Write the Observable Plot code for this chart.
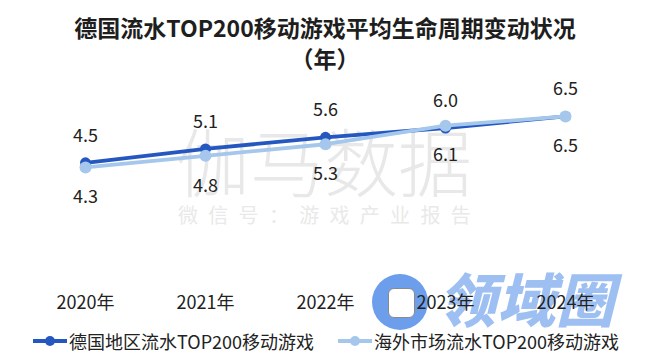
<!DOCTYPE html>
<html>
<head>
<meta charset="utf-8">
<script src="https://cdn.jsdelivr.net/npm/d3@7"></script>
<script src="https://cdn.jsdelivr.net/npm/@observablehq/plot@0.6"></script>
<style>
  html, body { margin: 0; padding: 0; background: #fff; }
  body { width: 650px; height: 364px; position: relative; overflow: hidden;
         font-family: "Noto Sans CJK SC", "Noto Sans", sans-serif; color: #222; }
  #title { position: relative; z-index: 3; text-align: center; font-weight: bold; font-size: 23px;
           line-height: 31px; padding-top: 12px; height: 62px; color: #1e1e1e; }
  #chart { position: relative; z-index: 3; height: 250px; }
  #legend { position: relative; z-index: 3; height: 34px; display: flex; align-items: center;
            font-size: 18px; color: #222; padding-left: 33px; }
  .item { display: flex; align-items: center; white-space: nowrap; }
  .item svg { margin-right: 2px; }
  .wm1 { position: absolute; z-index: 1; left: 176px; top: 122px; font-size: 74px; font-weight: 300; color: #e8e8e8;
         line-height: 1; white-space: nowrap; }
  .wm2 { position: absolute; z-index: 1; left: 178px; top: 205px; font-size: 20px; letter-spacing: 10.3px;
         color: #e9e9e9; line-height: 1; white-space: nowrap; }
  .logo-c { position: absolute; z-index: 2; left: 372px; top: 274px; width: 56px; height: 56px; border-radius: 50%;
            background: #5d93ea; opacity: 0.9; }
  .logo-sq { position: absolute; z-index: 2; left: 388px; top: 288px; width: 25px; height: 28px; border-radius: 6px;
             background: #fff; border: 1px solid #8a8a8a; }
  .logo-t { position: absolute; z-index: 2; left: 438px; top: 268px; font-size: 58px; font-weight: 900;
            font-style: italic; color: #8db5f0; opacity: 0.85; line-height: 1; white-space: nowrap; letter-spacing: 1px; }
</style>
</head>
<body>
<div class="wm1">伽马数据</div>
<div class="wm2">微信号：游戏产业报告</div>
<div class="logo-c"></div>
<div class="logo-sq"></div>
<div class="logo-t">领域圈</div>
<div id="title">德国流水TOP200移动游戏平均生命周期变动状况<br>（年）</div>
<div id="chart"></div>
<div id="legend"></div>
<script>
const years = ["2020", "2021", "2022", "2023", "2024"];
const germany = [4.5, 5.1, 5.6, 6.0, 6.5];
const overseas = [4.3, 4.8, 5.3, 6.1, 6.5];
const seriesNames = ["德国地区流水TOP200移动游戏", "海外市场流水TOP200移动游戏"];
const seriesColors = ["#2458c0", "#a5c7ec"];

const dataG = years.map((y, i) => ({year: y, value: germany[i]}));
const dataO = years.map((y, i) => ({year: y, value: overseas[i]}));

const chart = Plot.plot({
  width: 650,
  height: 250,
  marginTop: 0,
  marginBottom: 28,
  marginLeft: 0,
  marginRight: 0,
  style: {background: "transparent", fontFamily: "'Noto Sans CJK SC', sans-serif", fontSize: "18px", color: "#222"},
  x: {type: "point", domain: years, range: [85, 565], padding: 0, axis: null},
  y: {domain: [0, 8], range: [192.7, 7.1], axis: null},
  marks: [
    Plot.axisX({tickSize: 0, tickPadding: 0, tickFormat: d => d + "年", label: null, fill: "#222"}),
    Plot.line(dataG, {x: "year", y: "value", stroke: seriesColors[0], strokeWidth: 3.8}),
    Plot.dot(dataG, {x: "year", y: "value", r: 5.5, fill: seriesColors[0]}),
    Plot.line(dataO, {x: "year", y: "value", stroke: seriesColors[1], strokeWidth: 3.8}),
    Plot.dot(dataO, {x: "year", y: "value", r: 6, fill: seriesColors[1]}),
    Plot.text(dataG, {x: "year", y: "value", text: d => d.value.toFixed(1), dy: -27, fill: "#222"}),
    Plot.text(dataO, {x: "year", y: "value", text: d => d.value.toFixed(1), dy: 30, fill: "#222"})
  ]
});
document.getElementById("chart").appendChild(chart);

const legend = document.getElementById("legend");
seriesNames.forEach((name, i) => {
  const item = document.createElement("div");
  item.className = "item";
  if (i > 0) item.style.marginLeft = "24px";
  item.innerHTML = `<svg width="34" height="14"><line x1="0" y1="7" x2="34" y2="7" stroke="${seriesColors[i]}" stroke-width="4"/><circle cx="17" cy="7" r="5" fill="${seriesColors[i]}"/></svg><span>${name}</span>`;
  legend.appendChild(item);
});
</script>
</body>
</html>
